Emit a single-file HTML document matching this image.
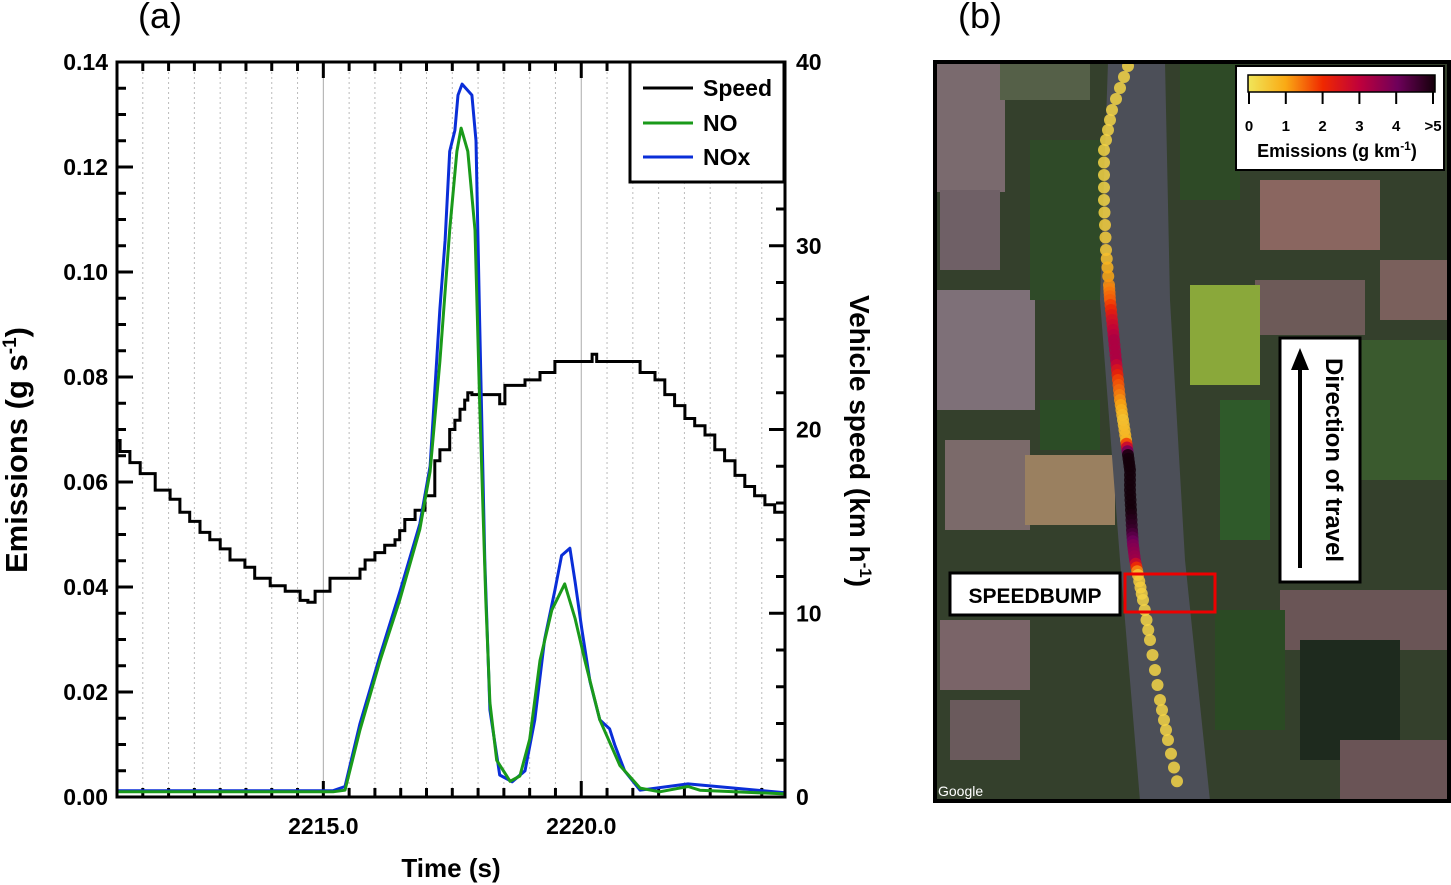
<!DOCTYPE html>
<html><head><meta charset="utf-8"><style>
html,body{margin:0;padding:0;background:#fff;}
svg{display:block;font-family:"Liberation Sans",Arial,sans-serif;}
</style></head><body>
<svg id="fig" width="1451" height="885" viewBox="0 0 1451 885" xmlns="http://www.w3.org/2000/svg">
<text x="160" y="28" font-size="36" text-anchor="middle">(a)</text>
<text x="980" y="28" font-size="36" text-anchor="middle">(b)</text>
<g id="chart"></g>
<g id="map"></g>
</svg>
<script>
const timeTicks=[2215,2220];
const timeTickLabels=["2215.0","2220.0"];
const emTicks=[0,0.02,0.04,0.06,0.08,0.10,0.12,0.14];
const emTickLabels=["0.00","0.02","0.04","0.06","0.08","0.10","0.12","0.14"];
const spTicks=[0,10,20,30,40];
const spTickLabels=["0","10","20","30","40"];
const speedT=[2211.00,2211.06,2211.25,2211.45,2211.74,2212.03,2212.22,2212.41,2212.61,2212.80,2213.00,2213.19,2213.48,2213.67,2213.97,2214.26,2214.55,2214.70,2214.84,2215.13,2215.71,2215.81,2216.00,2216.19,2216.39,2216.48,2216.58,2216.78,2216.97,2217.16,2217.26,2217.45,2217.55,2217.65,2217.74,2217.80,2217.88,2218.42,2218.52,2218.91,2219.20,2219.49,2220.21,2220.30,2221.14,2221.43,2221.62,2221.81,2222.01,2222.20,2222.40,2222.59,2222.78,2222.98,2223.17,2223.36,2223.56,2223.75,2223.95];
const speedV=[19.4,18.8,18.2,17.6,16.7,16.2,15.5,15.0,14.4,14.0,13.5,12.9,12.5,11.9,11.5,11.2,10.7,10.6,11.2,11.9,12.4,12.9,13.3,13.7,14.0,14.5,15.1,15.6,16.4,18.3,18.9,20.0,20.5,21.1,21.6,22.0,21.9,21.4,22.4,22.7,23.1,23.7,24.1,23.7,23.1,22.7,21.9,21.3,20.6,20.2,19.7,18.9,18.3,17.5,16.9,16.4,15.9,15.5,15.1];
const noT=[2211.0,2215.19,2215.42,2215.71,2216.10,2216.48,2216.87,2217.07,2217.26,2217.45,2217.59,2217.67,2217.80,2217.94,2218.03,2218.15,2218.23,2218.36,2218.62,2218.81,2219.00,2219.20,2219.43,2219.68,2219.88,2220.07,2220.36,2220.75,2221.14,2221.52,2222.07,2222.30,2223.95];
const noV=[0.001,0.001,0.0013,0.0128,0.026,0.0375,0.051,0.062,0.083,0.108,0.123,0.1274,0.123,0.108,0.0756,0.0375,0.018,0.007,0.003,0.004,0.011,0.026,0.0356,0.0406,0.034,0.026,0.0147,0.006,0.0017,0.001,0.002,0.0013,0.0006];
const noxT=[2211.0,2215.19,2215.42,2215.71,2216.10,2216.48,2216.87,2217.07,2217.26,2217.36,2217.45,2217.55,2217.61,2217.69,2217.88,2217.96,2218.03,2218.13,2218.23,2218.42,2218.66,2218.91,2219.10,2219.29,2219.49,2219.62,2219.78,2219.88,2220.01,2220.17,2220.36,2220.55,2220.65,2220.84,2221.14,2222.07,2223.95];
const noxV=[0.0012,0.0012,0.002,0.014,0.027,0.039,0.052,0.063,0.093,0.106,0.123,0.127,0.1337,0.1358,0.1337,0.125,0.091,0.045,0.0166,0.0042,0.0029,0.005,0.0147,0.03,0.0394,0.046,0.0474,0.041,0.032,0.022,0.0147,0.013,0.0099,0.005,0.0013,0.0025,0.0008];

const NS="http://www.w3.org/2000/svg";
const X0=117,X1=785,Y0=797,Y1=62,T0=2211,T1=2223.95;
const xS=t=>X0+(t-T0)/(T1-T0)*(X1-X0);
const yE=v=>Y0-v/0.14*(Y0-Y1);
const yS=v=>Y0-v/40*(Y0-Y1);
function mk(tag,attrs,parent){const e=document.createElementNS(NS,tag);for(const k in attrs)e.setAttribute(k,attrs[k]);parent.appendChild(e);return e;}
const g=document.getElementById('chart');
for(let t=2211.5;t<T1;t+=0.5){
 const major=Math.abs(t-Math.round(t/5)*5)<1e-6;
 const l=mk('line',{x1:xS(t),x2:xS(t),y1:Y1,y2:Y0,stroke:major?'#aaa':'#bbb','stroke-width':1,'stroke-dasharray':major?'':'2,3'},g);
 
 
 const tk=mk('line',{x1:xS(t),x2:xS(t),y1:Y1,y2:Y1+(major?16:9),stroke:'#000','stroke-width':3},g);
 
 
 const tb=mk('line',{x1:xS(t),x2:xS(t),y1:Y0,y2:Y0-(major?16:9),stroke:'#000','stroke-width':3},g);
 
 
}
for(let i=0;i<=28;i++){const v=i*0.005;const maj=i%4==0;
 const t=mk('line',{x1:X0,x2:X0+(maj?16:9),y1:yE(v),y2:yE(v),stroke:'#000','stroke-width':3},g);
 
 }
for(let i=0;i<=40;i+=2){const maj=i%10==0;
 const t=mk('line',{x1:X1,x2:X1-(maj?16:9),y1:yS(i),y2:yS(i),stroke:'#000','stroke-width':3},g);
 
 }
emTicks.forEach((v,i)=>{const t=mk('text',{x:108,y:yE(v)+8,'font-size':23,'font-weight':'bold','text-anchor':'end'},g);t.textContent=emTickLabels[i];
 
 });
spTicks.forEach((v,i)=>{const t=mk('text',{x:796,y:yS(v)+8,'font-size':23,'font-weight':'bold'},g);t.textContent=spTickLabels[i];
 
 });
timeTicks.forEach((v,i)=>{const t=mk('text',{x:xS(v),y:834,'font-size':23,'font-weight':'bold','text-anchor':'middle'},g);t.textContent=timeTickLabels[i];
 
 });
function linePts(T,V,yf){return T.map((t,i)=>xS(t).toFixed(1)+','+yf(V[i]).toFixed(1)).join(' ');}
function stepPts(T,V,yf){let p=[];for(let i=0;i<T.length;i++){if(i>0)p.push(xS(T[i]).toFixed(1)+','+yf(V[i-1]).toFixed(1));p.push(xS(T[i]).toFixed(1)+','+yf(V[i]).toFixed(1));}return p.join(' ');}
const sp=mk('polyline',{points:stepPts(speedT,speedV,yS),fill:'none',stroke:'#000','stroke-width':3},g);


const nx=mk('polyline',{points:linePts(noxT,noxV,yE),fill:'none',stroke:'#0a2ed8','stroke-width':3,'stroke-linejoin':'round'},g);


const no=mk('polyline',{points:linePts(noT,noV,yE),fill:'none',stroke:'#1a9a1a','stroke-width':3,'stroke-linejoin':'round'},g);


const fr=mk('rect',{x:X0,y:Y1,width:X1-X0,height:Y0-Y1,fill:'none',stroke:'#000','stroke-width':3},g);


const lg=mk('g',{},g);


mk('rect',{x:630,y:62,width:154,height:120,fill:'#fff',stroke:'#000','stroke-width':3},lg);
[['Speed','#000',88],['NO','#1a9a1a',123],['NOx','#0a2ed8',157]].forEach(([n,c,y])=>{
 const e=mk('g',{},lg);
 
 
 mk('line',{x1:643,x2:693,y1:y,y2:y,stroke:c,'stroke-width':3},e);
 const t=mk('text',{x:703,y:y+8,'font-size':23,'font-weight':'bold'},e);t.textContent=n;});
const yt=mk('text',{transform:'translate(27,450) rotate(-90)','font-size':31,'font-weight':'bold','text-anchor':'middle'},g);
yt.innerHTML='Emissions (g s<tspan dy="-11" font-size="19">-1</tspan><tspan dy="11">)</tspan>';


const rt=mk('text',{transform:'translate(850,441) rotate(90)','font-size':28,'font-weight':'bold','text-anchor':'middle'},g);
rt.innerHTML='Vehicle speed (km h<tspan dy="-10" font-size="17">-1</tspan><tspan dy="10">)</tspan>';


const xt=mk('text',{x:451,y:877,'font-size':26,'font-weight':'bold','text-anchor':'middle'},g);xt.textContent='Time (s)';



// ---- map panel ----
const pathY=[66,110,150,200,250,285,300,320,340,360,380,400,420,440,455,470,490,510,530,545,560,575,600,640,700,740,795];
const pathX=[1128,1112,1104,1104,1106,1109,1110,1112,1114,1116,1118,1120,1123,1126,1128,1130,1130,1131,1132,1133,1135,1138,1143,1150,1160,1168,1180];
const pathEm=[0.3,0.3,0.3,0.3,0.5,1.2,1.6,2.6,3.2,3.2,1.8,1.2,0.6,0.8,5,5,5,5,4.6,3.8,3.4,0.5,0.3,0.3,0.3,0.3,0.3];
const m=document.getElementById('map');
mk('rect',{x:935,y:62,width:514,height:739,fill:'#34402c'},m);
const patches=[[935,62,70,130,'#7a6a6e'],[940,190,60,80,'#6f6066'],[935,290,100,120,'#7e7078'],[1000,60,90,40,'#556048'],[1030,140,70,160,'#2f4a28'],[1180,60,60,140,'#2e4a26'],[1260,180,120,70,'#8a6660'],[1255,280,110,55,'#6d5a58'],[1380,260,70,60,'#7a605c'],[1190,285,70,100,'#8aa83a'],[945,440,85,90,'#7b6a6a'],[1025,455,90,70,'#9a8060'],[1040,400,60,50,'#2c4c26'],[1220,400,50,140,'#2f5a2a'],[1360,340,90,140,'#3a5a2e'],[1280,590,170,60,'#6a5556'],[1215,610,70,120,'#2b4a24'],[940,620,90,70,'#7a6468'],[950,700,70,60,'#6a5a5c'],[1300,640,100,120,'#1e2a1e'],[1340,740,110,60,'#6a5456']];
patches.forEach(p=>{const r=mk('rect',{x:p[0],y:p[1],width:p[2],height:p[3],fill:p[4]},m);
 
 });
const road=mk('polygon',{points:'1108,62 1165,62 1170,300 1185,560 1210,801 1140,801 1120,560 1100,300',fill:'#4c4f58'},m);


function emColor(v){const s=[[0,[240,230,90]],[1,[250,170,20]],[2,[240,40,0]],[3,[190,0,60]],[4,[110,0,90]],[5,[20,0,10]]];
 v=Math.min(5,Math.max(0,v));for(let i=1;i<s.length;i++){if(v<=s[i][0]){const a=s[i-1],b=s[i],f=(v-a[0])/(b[0]-a[0]);return 'rgb('+a[1].map((c,j)=>Math.round(c+(b[1][j]-c)*f)).join(',')+')';}}return 'rgb(20,0,10)';}
for(let i=0;i<pathY.length-1;i++){for(let k=0;k<4;k++){const f=k/4;
 const c=mk('circle',{cx:pathX[i]+(pathX[i+1]-pathX[i])*f,cy:pathY[i]+(pathY[i+1]-pathY[i])*f,r:6,fill:emColor(pathEm[i]+(pathEm[i+1]-pathEm[i])*f),opacity:0.85},m);
 
 }}
const bd=mk('rect',{x:935,y:62,width:514,height:739,fill:'none',stroke:'#000','stroke-width':4},m);


const gl=mk('text',{x:938,y:796,'font-size':14,fill:'#fff'},m);gl.textContent='Google';


const cl=mk('g',{},m);


mk('rect',{x:1236,y:66,width:208,height:104,fill:'#fff',stroke:'#000','stroke-width':2},cl);
const defs=mk('defs',{},cl);const lgr=mk('linearGradient',{id:'cg'},defs);
[0,1,2,3,4,5].forEach(v=>mk('stop',{offset:(v/5*100)+'%','stop-color':emColor(v)},lgr));
mk('rect',{x:1248,y:75,width:187,height:17,fill:'url(#cg)',stroke:'#000','stroke-width':1.5},cl);
const cbLabels=["0","1","2","3","4",">5"];
cbLabels.forEach((l,i)=>{const x=1249+i*36.8;mk('line',{x1:x,x2:x,y1:92,y2:104,stroke:'#000','stroke-width':2},cl);
 const t=mk('text',{x:x,y:131,'font-size':15,'font-weight':'bold','text-anchor':'middle'},cl);t.textContent=l;
 
 });
const ct=mk('text',{x:1337,y:157,'font-size':18,'font-weight':'bold','text-anchor':'middle'},cl);
ct.innerHTML='Emissions (g km<tspan dy="-7" font-size="12">-1</tspan><tspan dy="7">)</tspan>';
const db=mk('g',{},m);


mk('rect',{x:1280,y:338,width:80,height:244,fill:'#fff',stroke:'#000','stroke-width':3},db);
mk('line',{x1:1300,x2:1300,y1:568,y2:365,stroke:'#000','stroke-width':4},db);
mk('polygon',{points:'1291,370 1309,370 1300,348',fill:'#000'},db);
const dt=mk('text',{transform:'translate(1326,460) rotate(90)','font-size':24,'font-weight':'bold','text-anchor':'middle'},db);dt.textContent='Direction of travel';
const sb=mk('g',{},m);


mk('rect',{x:950,y:573,width:170,height:42,fill:'#fff',stroke:'#000','stroke-width':3},sb);
const st=mk('text',{x:1035,y:603,'font-size':21,'font-weight':'bold','text-anchor':'middle'},sb);st.textContent='SPEEDBUMP';
const rb=mk('rect',{x:1125,y:574,width:90,height:38,fill:'none',stroke:'#e00','stroke-width':3},m);


</script>
</body></html>
